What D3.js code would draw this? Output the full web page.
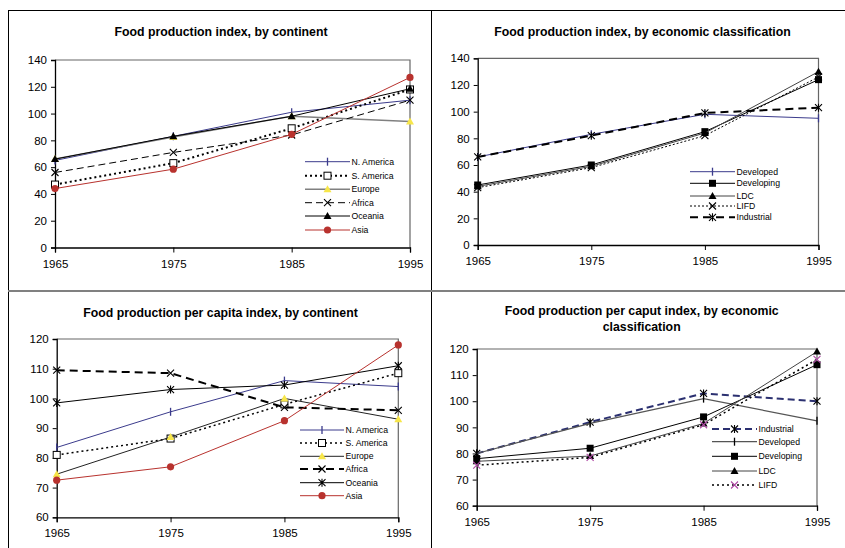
<!DOCTYPE html>
<meta charset="utf-8">
<script src="https://d3js.org/d3.v7.min.js"></script>
<style>
  body { margin: 0; background: #fff; }
  svg { display: block; font-family: "Liberation Sans", Arial, Helvetica, sans-serif; }
</style>
<div id="chart"></div>
<script>

// ---- data ----
var years = [1965, 1975, 1985, 1995];

// Food production index, by continent
var p1NAmerica = [65, 83, 101, 110];
var p1SAmerica = [47, 63, 89, 118];
var p1Europe   = [66, 82.5, 98, 94];
var p1Africa   = [56, 71, 84, 110];
var p1Oceania  = [66, 83, 98, 118.5];
var p1Asia     = [44, 58.5, 84.5, 127];

// Food production index, by economic classification
var p2Developed  = [66, 83, 98, 95];
var p2Developing = [45, 60, 85, 124];
var p2LDC        = [44, 59, 84, 130];
var p2LIFD       = [43, 58, 82, 126];
var p2Industrial = [66, 82, 99, 103];

// Food production per capita index, by continent
var p3NAmerica = [83.5, 95.5, 106, 104];
var p3SAmerica = [81, 86.5, 98, 108.5];
var p3Europe   = [74.5, 87, 100, 93];
var p3Africa   = [109.5, 108.5, 97, 96];
var p3Oceania  = [98.5, 103, 104.5, 111];
var p3Asia     = [72.5, 77, 92.5, 118];

// Food production per caput index, by economic classification
var p4Industrial = [80, 92, 103, 100];
var p4Developed  = [80, 91.5, 101, 92.5];
var p4Developing = [78, 82, 94, 114];
var p4LDC        = [77, 79, 91.5, 119];
var p4LIFD       = [75.5, 78.5, 91, 116];

var ticks140 = [0, 20, 40, 60, 80, 100, 120, 140];
var ticks120 = [60, 70, 80, 90, 100, 110, 120];

// line / marker styles
var NAVY = "#3b3b8c", RED = "#b8322e", YEL = "#f7e64a", MAG = "#b04aa6";

var panels = [
  { title: ["Food production index, by continent"], tx: 221, ty: 36,
    x0: 55, x1: 410, y0: 247.5, y1: 60, domain: [0, 140], ticks: ticks140,
    leg: { x0: 305, x1: 350, ys: [161.7, 175.7, 189.3, 202.7, 216, 230] },
    series: [
      { name: "N. America", v: p1NAmerica, c: NAVY, w: 1, m: "bar", mc: NAVY },
      { name: "S. America", v: p1SAmerica, c: "#000", w: 2, d: "2,3", m: "sqOpen", mc: "#000" },
      { name: "Europe", v: p1Europe, c: "#808080", w: 1.5, m: "tri", mc: YEL },
      { name: "Africa", v: p1Africa, c: "#000", w: 1, d: "7,4", m: "x", mc: "#000" },
      { name: "Oceania", v: p1Oceania, c: "#000", w: 1, m: "tri", mc: "#000" },
      { name: "Asia", v: p1Asia, c: RED, w: 1, m: "dot", mc: RED }
    ] },
  { title: ["Food production index, by economic classification"], tx: 642.5, ty: 36,
    x0: 477.7, x1: 818.5, y0: 245, y1: 58.3, domain: [0, 140], ticks: ticks140,
    leg: { x0: 690, x1: 735, ys: [171.7, 183.3, 196, 206, 217.3] },
    series: [
      { name: "Developed", v: p2Developed, c: NAVY, w: 1, m: "bar", mc: NAVY },
      { name: "Developing", v: p2Developing, c: "#000", w: 1, m: "sq", mc: "#000" },
      { name: "LDC", v: p2LDC, c: "#444", w: 1, m: "tri", mc: "#000" },
      { name: "LIFD", v: p2LIFD, c: "#000", w: 1, d: "2,2", m: "x", mc: "#000" },
      { name: "Industrial", v: p2Industrial, c: "#000", w: 2, d: "8,5", m: "star", mc: "#000" }
    ] },
  { title: ["Food production per capita index, by continent"], tx: 220.5, ty: 317,
    x0: 56.7, x1: 398.3, y0: 517.3, y1: 339, domain: [60, 120], ticks: ticks120,
    leg: { x0: 300, x1: 344, ys: [430, 443, 456.3, 469, 482.7, 495.7] },
    series: [
      { name: "N. America", v: p3NAmerica, c: NAVY, w: 1, m: "bar", mc: NAVY },
      { name: "S. America", v: p3SAmerica, c: "#000", w: 1.5, d: "2,3", m: "sqOpen", mc: "#000" },
      { name: "Europe", v: p3Europe, c: "#222", w: 1, m: "tri", mc: YEL },
      { name: "Africa", v: p3Africa, c: "#000", w: 2, d: "8,5", m: "x", mc: "#000" },
      { name: "Oceania", v: p3Oceania, c: "#000", w: 1, m: "star", mc: "#000" },
      { name: "Asia", v: p3Asia, c: RED, w: 1, m: "dot", mc: RED }
    ] },
  { title: ["Food production per caput index, by economic", "classification"], tx: 641.7, ty: 315,
    x0: 476.7, x1: 817, y0: 505.7, y1: 349, domain: [60, 120], ticks: ticks120,
    leg: { x0: 712, x1: 757, ys: [429, 441.7, 456.3, 471, 485] },
    series: [
      { name: "Industrial", v: p4Industrial, c: "#2b3070", w: 2, d: "7,4", m: "star", mc: "#000" },
      { name: "Developed", v: p4Developed, c: "#555", w: 1.2, m: "bar", mc: "#000" },
      { name: "Developing", v: p4Developing, c: "#000", w: 1, m: "sq", mc: "#000" },
      { name: "LDC", v: p4LDC, c: "#444", w: 1, m: "tri", mc: "#000" },
      { name: "LIFD", v: p4LIFD, c: "#000", w: 1.5, d: "2,3", m: "x", mc: MAG }
    ] }
];

var W = 845, H = 548;
var svg = d3.select("#chart").append("svg").attr("width", W).attr("height", H);

// table-like frame round the four charts
svg.append("line").attr("x1", 8).attr("x2", W).attr("y1", 10.5).attr("y2", 10.5).attr("stroke", "#000");
svg.append("line").attr("x1", 8.5).attr("x2", 8.5).attr("y1", 10).attr("y2", H).attr("stroke", "#000");
svg.append("line").attr("x1", 431.5).attr("x2", 431.5).attr("y1", 10).attr("y2", H).attr("stroke", "#000");
svg.append("line").attr("x1", 8).attr("x2", W).attr("y1", 291).attr("y2", 291).attr("stroke", "#808080").attr("stroke-width", 2);

function marker(g, type, x, y, col) {
  if (type == "bar") {
    g.append("line").attr("x1", x).attr("x2", x).attr("y1", y - 4).attr("y2", y + 4).attr("stroke", col).attr("stroke-width", 1.3);
  } else if (type == "sqOpen") {
    g.append("rect").attr("x", x - 3.5).attr("y", y - 3.5).attr("width", 7).attr("height", 7)
      .attr("fill", "#fff").attr("stroke", col).attr("stroke-width", 1);
  } else if (type == "sq") {
    g.append("rect").attr("x", x - 3.5).attr("y", y - 3.5).attr("width", 7).attr("height", 7).attr("fill", col);
  } else if (type == "tri") {
    g.append("path").attr("d", "M" + x + "," + (y - 4) + "L" + (x + 4) + "," + (y + 3) + "L" + (x - 4) + "," + (y + 3) + "Z").attr("fill", col);
  } else if (type == "dot") {
    g.append("circle").attr("cx", x).attr("cy", y).attr("r", 3.6).attr("fill", col);
  } else {
    // x and asterisk
    g.append("path").attr("d", "M" + (x - 3.5) + "," + (y - 3.5) + "L" + (x + 3.5) + "," + (y + 3.5) +
      "M" + (x + 3.5) + "," + (y - 3.5) + "L" + (x - 3.5) + "," + (y + 3.5) +
      (type == "star" ? "M" + x + "," + (y - 4) + "L" + x + "," + (y + 4) : ""))
      .attr("stroke", col).attr("stroke-width", 1.1).attr("fill", "none");
  }
}

panels.forEach(function(p) {
  var g = svg.append("g");
  var x = d3.scalePoint().domain(years).range([p.x0, p.x1]).padding(0);
  var y = d3.scaleLinear().domain(p.domain).range([p.y0, p.y1]);

  // title
  p.title.forEach(function(t, i) {
    g.append("text").attr("x", p.tx).attr("y", p.ty + i * 15.7).attr("text-anchor", "middle")
      .style("font-size", "12.3px").style("font-weight", "bold").text(t);
  });

  // plot area border (top + right)
  g.append("path").attr("d", "M" + p.x0 + "," + p.y1 + "H" + p.x1 + "V" + p.y0)
    .attr("fill", "none").attr("stroke", "#666").attr("stroke-width", 1.2);

  // y axis
  var ya = g.append("g").attr("transform", "translate(" + p.x0 + ",0)")
    .call(d3.axisLeft(y).tickValues(p.ticks).tickSize(4).tickPadding(4));
  // x axis
  var xa = g.append("g").attr("transform", "translate(0," + p.y0 + ")")
    .call(d3.axisBottom(x).tickSize(5).tickPadding(7));
  [ya, xa].forEach(function(a) {
    a.select(".domain").attr("stroke", "#000").attr("stroke-width", 1.3);
    a.selectAll(".tick line").attr("stroke", "#000");
    a.selectAll("text").style("font-size", "11.5px").style("font-family", "Liberation Sans, Arial, sans-serif").attr("fill", "#000");
  });

  var line = d3.line().x(function(d, i) { return x(years[i]); }).y(function(d) { return y(d); });

  p.series.forEach(function(s) {
    g.append("path").datum(s.v).attr("d", line).attr("fill", "none")
      .attr("stroke", s.c).attr("stroke-width", s.w).attr("stroke-dasharray", s.d || null);
    s.v.forEach(function(v, i) { marker(g, s.m, x(years[i]), y(v), s.mc); });
  });

  // legend
  p.series.forEach(function(s, i) {
    var ly = p.leg.ys[i];
    g.append("line").attr("x1", p.leg.x0).attr("x2", p.leg.x1).attr("y1", ly).attr("y2", ly)
      .attr("stroke", s.c).attr("stroke-width", s.w).attr("stroke-dasharray", s.d || null);
    marker(g, s.m, (p.leg.x0 + p.leg.x1) / 2, ly, s.mc);
    g.append("text").attr("x", p.leg.x1 + 1.5).attr("y", ly).attr("dy", "0.35em")
      .style("font-size", "8.7px").text(s.name);
  });
});

</script>
